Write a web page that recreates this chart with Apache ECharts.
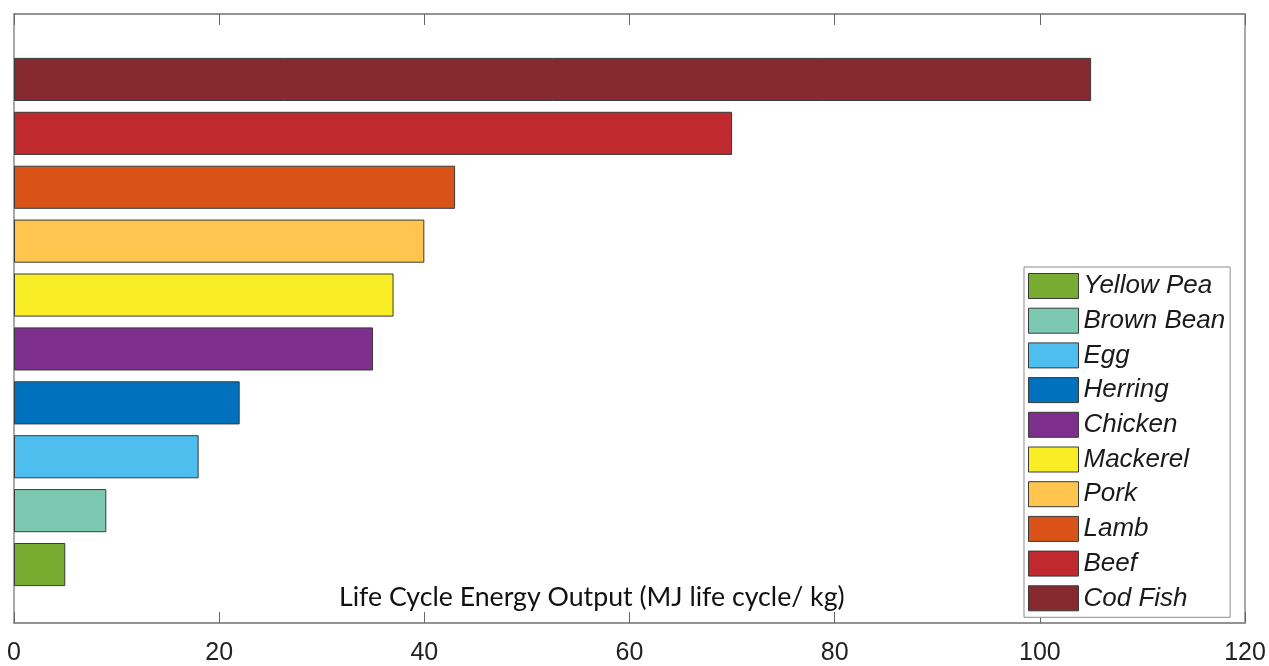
<!DOCTYPE html>
<html>
<head>
<meta charset="utf-8">
<title>Life Cycle Energy Output</title>
<script src="https://cdn.jsdelivr.net/npm/echarts@6/dist/echarts.min.js"></script>
<style>
  html, body { margin: 0; padding: 0; background: #fff; }
  #chart { width: 1269px; height: 666px; }
</style>
</head>
<body>
<div id="chart"></div>
<script>
// bottom to top, same order as the legend
const foods = ['Yellow Pea', 'Brown Bean', 'Egg', 'Herring', 'Chicken', 'Mackerel', 'Pork', 'Lamb', 'Beef', 'Cod Fish'];
const energy = [5, 9, 18, 22, 35, 37, 40, 43, 70, 105];
const barColors = ['#77ac30', '#7cc8b1', '#4dbeee', '#0072bd', '#7e2f8e', '#f9ee25', '#ffc54f', '#d95319', '#c0292e', '#862a2f'];
const xTicks = [0, 120, 20]; // min, max, step
const axisTitle = 'Life Cycle Energy Output (MJ life cycle/ kg)';

const chart = echarts.init(document.getElementById('chart'));

// one series per food so the legend lists each one
const series = foods.map((name, i) => ({
  name: name,
  type: 'bar',
  stack: 'all',
  xAxisIndex: 2,
  yAxisIndex: 1,
  barWidth: '80%',
  itemStyle: { color: barColors[i], borderColor: '#3a3a3a', borderWidth: 1 },
  emphasis: { disabled: true },
  data: foods.map((f, j) => (j === i ? energy[i] : '-'))
}));

const option = {
  animation: false,
  backgroundColor: '#fff',
  title: {
    text: axisTitle,
    left: 334,
    top: 579,
    textStyle: { fontFamily: 'Lato', fontSize: 26.7, fontWeight: 'normal', color: '#111' }
  },
  legend: {
    data: foods,
    orient: 'vertical',
    left: 1024,
    top: 267,
    padding: [6, 5, 6, 4],
    itemWidth: 50,
    itemHeight: 25,
    itemGap: 8.7,
    backgroundColor: '#fff',
    borderColor: '#8c8c8c',
    borderWidth: 1,
    icon: 'rect',
    itemStyle: { borderColor: '#3a3a3a', borderWidth: 1 },
    textStyle: { fontFamily: 'Liberation Sans', fontStyle: 'italic', fontSize: 26, lineHeight: 25, color: '#1a1a1a' },
    selectedMode: false
  },
  grid: [
    // frame with the ticks
    { left: 14, right: 24, top: 14, bottom: 38, show: true, borderColor: '#8c8c8c', borderWidth: 1.5 },
    // bars
    { left: 14, right: 24, top: 52.5, bottom: 74.5 }
  ],
  xAxis: [
    {
      gridIndex: 0, type: 'value', position: 'bottom',
      min: xTicks[0], max: xTicks[1], interval: xTicks[2],
      axisLine: { show: true, lineStyle: { color: '#8c8c8c', width: 1.5 } },
      axisTick: { show: true, inside: true, length: 11, lineStyle: { color: '#666' } },
      axisLabel: { fontFamily: 'Liberation Sans', fontSize: 25, color: '#222', margin: 18 },
      splitLine: { show: false }
    },
    {
      gridIndex: 0, type: 'value', position: 'top',
      min: xTicks[0], max: xTicks[1], interval: xTicks[2],
      axisLine: { show: true, lineStyle: { color: '#8c8c8c', width: 1.5 } },
      axisTick: { show: true, inside: true, length: 11, lineStyle: { color: '#666' } },
      axisLabel: { show: false },
      splitLine: { show: false }
    },
    { gridIndex: 1, type: 'value', min: xTicks[0], max: xTicks[1], show: false, splitLine: { show: false } }
  ],
  yAxis: [
    { gridIndex: 0, type: 'value', min: 0, max: 1, show: false, splitLine: { show: false } },
    { gridIndex: 1, type: 'category', data: foods, show: false }
  ],
  series: series
};

chart.setOption(option);
</script>
</body>
</html>
